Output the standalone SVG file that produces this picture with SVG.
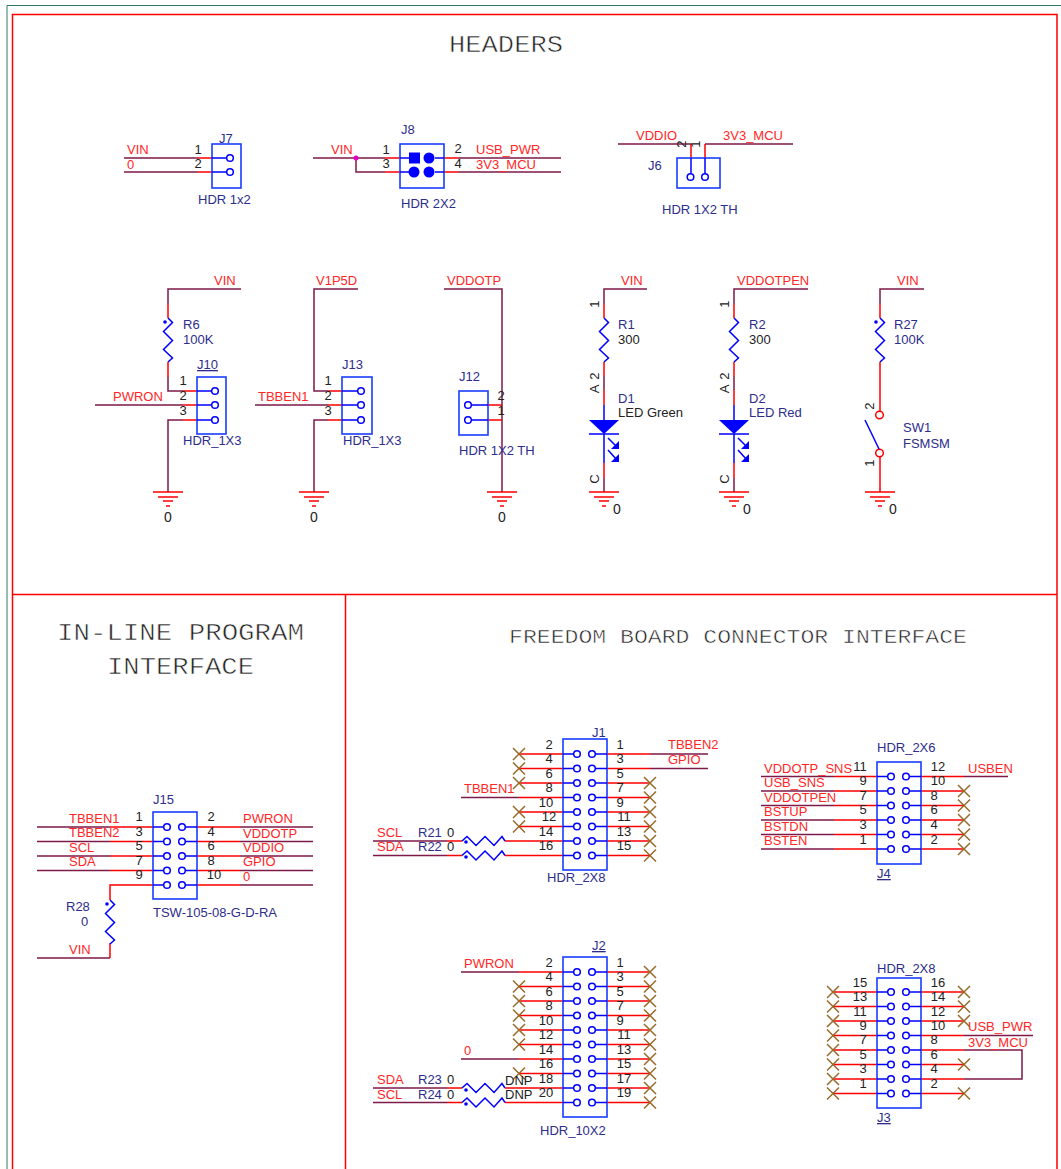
<svg xmlns="http://www.w3.org/2000/svg" width="1061" height="1169" viewBox="0 0 1061 1169">
<style>
text{font-family:"Liberation Sans",Arial,sans-serif;font-size:13px}
.n{fill:#ff2626}
.p{fill:#2d2d8c}
.k{fill:#222;text-anchor:middle}
.z{font-size:14px}
.d{fill:#222}
.u{text-decoration:underline}
.t{font-family:"Liberation Mono","Courier New",monospace;fill:#222;font-size:23px;stroke:#fff;stroke-width:.55px}
.w{fill:none;stroke:#7d1a48;stroke-width:1.5}
.r{fill:none;stroke:#ff0000;stroke-width:1.5}
.b{fill:none;stroke:#0000ff;stroke-width:1.5}
.box{fill:none;stroke:#1a3cff;stroke-width:1.6}
.pin{fill:#fff;stroke:#0000ff;stroke-width:1.5}
.dot{fill:#0000ff}
.x{fill:none;stroke:#9a6a2a;stroke-width:1.5}
.g{fill:none;stroke:#ff0000;stroke-width:1.5}
.fr{fill:none;stroke:#ff0000;stroke-width:1.5}
</style>
<defs>
<path id="nc" class="x" d="M-6-6L6 6M-6 6L6-6"/>
<path id="gnd" class="g" d="M-15 0H15M-10 5H10M-5 9H5M-2 14H2"/>
<path id="rv" class="b" d="M0 0L4.500 4.500L-4.500 13.500L4.500 22.500L-4.500 31.500L4.500 40L0 44"/>
<path id="rh" class="b" d="M0 0L5-4.500L14 4.500L23-4.500L32 4.500L40-4.500L43 0"/>
<g id="led">
<path class="b" d="M0 0V15M-15 29H15M0 29V58M4 33L13 42M4 45L13 55"/>
<polygon class="dot" points="-15,15 15,15 0,29"/>
<polygon class="dot" points="15,44 15,36 7,44"/>
<polygon class="dot" points="15,57 15,49 7,57"/>
</g>
</defs>

<g id="frame">
<path d="M7 1169V5.500H1061" fill="none" stroke="#2f7a6a" stroke-width="1"/>
<path class="fr" d="M1057 1169V14.500H12.500V1169M12.500 594.500H1057M345.500 594.500V1169"/>
<text class="t" x="449" y="52" textLength="114" lengthAdjust="spacingAndGlyphs">HEADERS</text>
<text class="t" x="57" y="640" textLength="247" lengthAdjust="spacingAndGlyphs">IN-LINE PROGRAM</text>
<text class="t" x="107" y="674" textLength="147" lengthAdjust="spacingAndGlyphs">INTERFACE</text>
<text class="t" x="509" y="643" style="font-size:20px" textLength="458" lengthAdjust="spacingAndGlyphs">FREEDOM BOARD CONNECTOR INTERFACE</text>
</g>

<g id="connectors">
<path class="w" d="M124 158H198M124 172H198M313 158H385M356 158V172H385M458 158H561M458 172H561M618 144H691M705 144H793"/>
<path class="r" d="M198 158H212M198 172H212M385 158H400M385 172H400M444 158H458M444 172H458M691 144V158M705 144V158"/>
<circle cx="356" cy="158" r="2.500" fill="#e000c0"/>
<path class="w" d="M241 289H168V304M168 377V391H183M95 405H183M183 420H168V492M358 289H314V391H328M255 405H328M328 420H314V492M444 289H502V492"/>
<path class="r" d="M168 304V318M168 362V377M183 391H197M183 405H197M183 420H197M328 391H342M328 405H342M328 420H342M488 405H502M488 420H502"/>
<path class="w" d="M647 289H604V304M604 376V390M604 478V492M808 289H734V304M734 376V390M734 478V492M924 289H880V304"/>
<path class="r" d="M604 304V318M604 362V376M604 390V405M604 463V478M734 304V318M734 362V376M734 390V405M734 463V478M880 304V318M880 362V411M880 457V492"/>
<path class="w" d="M37 827H110M37 841.500H110M37 856H110M37 870.500H110M110 958H37M240 827H313M240 841.500H313M240 856H313M240 870.500H313M240 885H313"/>
<path class="r" d="M110 827H153M110 841.500H153M110 856H153M110 870.500H153M153 885H110V900M110 943V958M197 827H240M197 841.500H240M197 856H240M197 870.500H240M197 885H240"/>
<path class="w" d="M461 797.500H519M373 841H447M373 855.500H447M650 754H708M650 768.500H708"/>
<path class="r" d="M519 754H563M519 768.500H563M519 783H563M519 797.500H563M519 812H563M519 826.500H563M447 841H462M505 841H563M447 855.500H462M505 855.500H563M607 754H650M607 768.500H650M607 783H650M607 797.500H650M607 812H650M607 826.500H650M607 841H650M607 855.500H650"/>
<path class="w" d="M461 972H519M461 1059H519M373 1088H447M373 1102.500H447"/>
<path class="r" d="M519 972H563M519 986.500H563M519 1001H563M519 1015.500H563M519 1030H563M519 1044.500H563M519 1059H563M519 1073.500H563M447 1088H462M505 1088H563M447 1102.500H462M505 1102.500H563M607 972H650M607 986.500H650M607 1001H650M607 1015.500H650M607 1030H650M607 1044.500H650M607 1059H650M607 1073.500H650M607 1088H650M607 1102.500H650"/>
<path class="w" d="M761 776.500H834M761 791H834M761 805.500H834M761 820H834M761 834.500H834M761 849H834M964 776.500H1008"/>
<path class="r" d="M834 776.500H877M834 791H877M834 805.500H877M834 820H877M834 834.500H877M834 849H877M921 776.500H964M921 791H964M921 805.500H964M921 820H964M921 834.500H964M921 849H964"/>
<path class="w" d="M964 1035.500H1033M964 1050H1022V1079H964"/>
<path class="r" d="M833 992H877M833 1006.500H877M833 1021H877M833 1035.500H877M833 1050H877M833 1064.500H877M833 1079H877M833 1093.500H877M921 992H964M921 1006.500H964M921 1021H964M921 1035.500H964M921 1050H964M921 1064.500H964M921 1079H964M921 1093.500H964"/>
</g>

<g id="J7">
<rect class="box" x="212" y="144" width="29" height="44"/>
<path class="b" d="M212 158H227M212 172H227"/>
<circle class="pin" cx="230" cy="158" r="3.300"/><circle class="pin" cx="230" cy="172" r="3.300"/>
<text class="p" x="219" y="143">J7</text><text class="p" x="198" y="204">HDR 1x2</text>
<text class="n" x="127" y="154">VIN</text><text class="n" x="127" y="169">0</text>
<text class="k" x="198" y="154">1</text><text class="k" x="198" y="168">2</text>
</g>

<g id="J8">
<rect class="box" x="400" y="144" width="44" height="44"/>
<path class="b" d="M400 158H409M400 172H409M435 158H444M435 172H444"/>
<rect class="dot" x="409" y="152.500" width="11" height="11"/>
<circle class="dot" cx="429" cy="158" r="5.500"/><circle class="dot" cx="414" cy="172" r="5.500"/><circle class="dot" cx="429" cy="172" r="5.500"/>
<text class="p" x="401" y="134">J8</text><text class="p" x="401" y="208">HDR 2X2</text>
<text class="n" x="331" y="154">VIN</text>
<text class="k" x="386" y="154">1</text><text class="k" x="386" y="168">3</text><text class="k" x="458" y="153">2</text><text class="k" x="458" y="168">4</text>
<text class="n" x="476" y="154">USB_PWR</text><text class="n" x="476" y="169">3V3_MCU</text>
</g>

<g id="J6">
<rect class="box" x="677" y="158" width="43" height="30"/>
<path class="b" d="M691 158V173.500M705 158V173.500"/>
<circle class="pin" cx="690.500" cy="177" r="3.300"/><circle class="pin" cx="705" cy="177" r="3.300"/>
<text class="n" x="636" y="140">VDDIO</text><text class="n" x="723" y="140">3V3_MCU</text>
<text class="p" x="648" y="170">J6</text><text class="p" x="662" y="214">HDR 1X2 TH</text>
<text class="k" transform="rotate(-90 686 144)" x="686" y="144">2</text><text class="k" transform="rotate(-90 700 144)" x="700" y="144">1</text>
</g>

<g id="R6">
<use href="#rv" x="168" y="318"/><circle class="dot" cx="165" cy="322" r="1.800"/>
<text class="n" x="214" y="285">VIN</text>
<text class="p" x="183" y="329">R6</text><text class="p" x="183" y="344">100K</text>
</g>
<g id="J10">
<rect class="box" x="197" y="377" width="29" height="57"/>
<path class="b" d="M197 391H212M197 405H212M197 420H212"/>
<circle class="pin" cx="215" cy="391" r="3.300"/><circle class="pin" cx="215" cy="405" r="3.300"/><circle class="pin" cx="215" cy="420" r="3.300"/>
<text class="p u" x="197" y="369">J10</text><text class="p" x="183" y="445">HDR_1X3</text>
<text class="k" x="183" y="385">1</text><text class="k" x="183" y="400">2</text><text class="k" x="183" y="415">3</text>
<text class="n" x="113" y="401">PWRON</text>
<use href="#gnd" x="168" y="492"/><text class="k z" x="168" y="522">0</text>
</g>
<g id="J13">
<rect class="box" x="342" y="377" width="30" height="57"/>
<path class="b" d="M342 391H358M342 405H358M342 420H358"/>
<circle class="pin" cx="361" cy="391" r="3.300"/><circle class="pin" cx="361" cy="405" r="3.300"/><circle class="pin" cx="361" cy="420" r="3.300"/>
<text class="p" x="342" y="369">J13</text><text class="p" x="343" y="445">HDR_1X3</text>
<text class="k" x="328" y="385">1</text><text class="k" x="328" y="400">2</text><text class="k" x="328" y="415">3</text>
<text class="n" x="316" y="285">V1P5D</text><text class="n" x="258" y="401">TBBEN1</text>
<use href="#gnd" x="314" y="492"/><text class="k z" x="314" y="522">0</text>
</g>
<g id="J12">
<rect class="box" x="459" y="391" width="29" height="44"/>
<path class="b" d="M471 405H488M471 420H488"/>
<circle class="pin" cx="468" cy="405" r="3.300"/><circle class="pin" cx="468" cy="420" r="3.300"/>
<text class="p" x="459" y="381">J12</text><text class="p" x="459" y="455">HDR 1X2 TH</text>
<text class="k" x="501" y="400">2</text><text class="k" x="501" y="415">1</text>
<text class="n" x="447" y="285">VDDOTP</text>
<use href="#gnd" x="502" y="492"/><text class="k z" x="502" y="522">0</text>
</g>
<g id="R1">
<use href="#rv" x="604" y="318"/>
<text class="n" x="621" y="285">VIN</text>
<text class="p" x="618" y="329">R1</text><text class="d" x="618" y="344">300</text>
<text class="k" transform="rotate(-90 599 304)" x="599" y="304">1</text>
<text class="k" transform="rotate(-90 599 376)" x="599" y="376">2</text>
</g>
<g id="D1">
<use href="#led" x="604" y="405"/>
<text class="k" transform="rotate(-90 599 389)" x="599" y="389">A</text>
<text class="k" transform="rotate(-90 599 479)" x="599" y="479">C</text>
<text class="p" x="618" y="403">D1</text><text class="d" x="618" y="417">LED Green</text>
<use href="#gnd" x="604" y="492"/><text class="k z" x="617" y="514">0</text>
</g>
<g id="R2">
<use href="#rv" x="734" y="318"/>
<text class="n" x="737" y="285">VDDOTPEN</text>
<text class="p" x="749" y="329">R2</text><text class="d" x="749" y="344">300</text>
<text class="k" transform="rotate(-90 729 304)" x="729" y="304">1</text>
<text class="k" transform="rotate(-90 729 376)" x="729" y="376">2</text>
</g>
<g id="D2">
<use href="#led" x="734" y="405"/>
<text class="k" transform="rotate(-90 729 389)" x="729" y="389">A</text>
<text class="k" transform="rotate(-90 729 479)" x="729" y="479">C</text>
<text class="p" x="749" y="403">D2</text><text class="p" x="749" y="417">LED Red</text>
<use href="#gnd" x="734" y="492"/><text class="k z" x="747" y="514">0</text>
</g>
<g id="R27">
<use href="#rv" x="880" y="318"/><circle class="dot" cx="876" cy="322" r="1.800"/>
<text class="n" x="897" y="285">VIN</text>
<text class="p" x="894" y="329">R27</text><text class="p" x="894" y="344">100K</text>
</g>
<g id="SW1">
<circle cx="879.500" cy="415" r="3.800" fill="#fff" stroke="#ff0000" stroke-width="1.500"/>
<circle cx="879.500" cy="453" r="3.800" fill="#fff" stroke="#ff0000" stroke-width="1.500"/>
<path class="b" d="M865 420L879 449"/>
<text class="k" transform="rotate(-90 874 406)" x="874" y="406">2</text>
<text class="k" transform="rotate(-90 874 463)" x="874" y="463">1</text>
<text class="p" x="903" y="432">SW1</text><text class="p" x="903" y="448">FSMSM</text>
<use href="#gnd" x="880" y="492"/><text class="k z" x="893" y="514">0</text>
</g>

<g id="J15">
<rect class="box" x="153" y="812" width="44" height="87"/>
<path class="b" d="M153 827H164M153 841.500H164M153 856H164M153 870.500H164M153 885H164M185 827H197M185 841.500H197M185 856H197M185 870.500H197M185 885H197"/>
<circle class="pin" cx="167" cy="827" r="3.300"/><circle class="pin" cx="182" cy="827" r="3.300"/>
<circle class="pin" cx="167" cy="841.500" r="3.300"/><circle class="pin" cx="182" cy="841.500" r="3.300"/>
<circle class="pin" cx="167" cy="856" r="3.300"/><circle class="pin" cx="182" cy="856" r="3.300"/>
<circle class="pin" cx="167" cy="870.500" r="3.300"/><circle class="pin" cx="182" cy="870.500" r="3.300"/>
<circle class="pin" cx="167" cy="885" r="3.300"/><circle class="pin" cx="182" cy="885" r="3.300"/>
<text class="p" x="153" y="804">J15</text><text class="p" x="153" y="917">TSW-105-08-G-D-RA</text>
<text class="k" x="139" y="821">1</text><text class="k" x="139" y="836">3</text><text class="k" x="139" y="850">5</text><text class="k" x="139" y="865">7</text><text class="k" x="139" y="879">9</text>
<text class="k" x="211" y="821">2</text><text class="k" x="211" y="836">4</text><text class="k" x="211" y="850">6</text><text class="k" x="211" y="865">8</text><text class="k" x="214" y="879">10</text>
<text class="n" x="69" y="823">TBBEN1</text><text class="n" x="69" y="837">TBBEN2</text><text class="n" x="69" y="852">SCL</text><text class="n" x="69" y="866">SDA</text>
<text class="n" x="243" y="823">PWRON</text><text class="n" x="243" y="838">VDDOTP</text><text class="n" x="243" y="852">VDDIO</text><text class="n" x="243" y="866">GPIO</text><text class="n" x="243" y="881">0</text>
</g>
<g id="R28">
<use href="#rv" x="110" y="900"/><circle class="dot" cx="107" cy="904" r="1.800"/>
<text class="p" x="66" y="911">R28</text><text class="p" x="81" y="926">0</text>
<text class="n" x="69" y="954">VIN</text>
</g>

<g id="J1">
<rect class="box" x="563" y="739" width="44" height="131"/>
<path class="b" d="M563 754H574M563 768.500H574M563 783H574M563 797.500H574M563 812H574M563 826.500H574M563 841H574M563 855.500H574M595 754H607M595 768.500H607M595 783H607M595 797.500H607M595 812H607M595 826.500H607M595 841H607M595 855.500H607"/>
<circle class="pin" cx="577" cy="754" r="3.300"/><circle class="pin" cx="592" cy="754" r="3.300"/>
<circle class="pin" cx="577" cy="768.500" r="3.300"/><circle class="pin" cx="592" cy="768.500" r="3.300"/>
<circle class="pin" cx="577" cy="783" r="3.300"/><circle class="pin" cx="592" cy="783" r="3.300"/>
<circle class="pin" cx="577" cy="797.500" r="3.300"/><circle class="pin" cx="592" cy="797.500" r="3.300"/>
<circle class="pin" cx="577" cy="812" r="3.300"/><circle class="pin" cx="592" cy="812" r="3.300"/>
<circle class="pin" cx="577" cy="826.500" r="3.300"/><circle class="pin" cx="592" cy="826.500" r="3.300"/>
<circle class="pin" cx="577" cy="841" r="3.300"/><circle class="pin" cx="592" cy="841" r="3.300"/>
<circle class="pin" cx="577" cy="855.500" r="3.300"/><circle class="pin" cx="592" cy="855.500" r="3.300"/>
<text class="p" x="592" y="737">J1</text><text class="p" x="547" y="882">HDR_2X8</text>
<text class="k" x="549" y="749">2</text><text class="k" x="549" y="763">4</text><text class="k" x="549" y="778">6</text><text class="k" x="549" y="792">8</text><text class="k" x="546" y="807">10</text><text class="k" x="549" y="821">12</text><text class="k" x="546" y="836">14</text><text class="k" x="546" y="850">16</text>
<text class="k" x="620" y="749">1</text><text class="k" x="620" y="763">3</text><text class="k" x="620" y="778">5</text><text class="k" x="620" y="792">7</text><text class="k" x="620" y="807">9</text><text class="k" x="624" y="821">11</text><text class="k" x="624" y="836">13</text><text class="k" x="624" y="850">15</text>
<text class="n" x="668" y="749">TBBEN2</text><text class="n" x="668" y="764">GPIO</text><text class="n" x="464" y="793">TBBEN1</text>
<use href="#nc" x="519" y="754"/><use href="#nc" x="519" y="768.500"/><use href="#nc" x="519" y="783"/><use href="#nc" x="519" y="812"/><use href="#nc" x="519" y="826.500"/>
<use href="#nc" x="650" y="783"/><use href="#nc" x="650" y="797.500"/><use href="#nc" x="650" y="812"/><use href="#nc" x="650" y="826.500"/><use href="#nc" x="650" y="841"/><use href="#nc" x="650" y="855.500"/>
</g>
<g id="R21">
<use href="#rh" x="462" y="841"/><circle class="dot" cx="466" cy="842" r="1.800"/>
<text class="n" x="377" y="837">SCL</text><text class="p" x="418" y="837">R21</text><text class="d" x="447" y="837">0</text>
</g>
<g id="R22">
<use href="#rh" x="462" y="855.500"/><circle class="dot" cx="466" cy="857" r="1.800"/>
<text class="n" x="377" y="851">SDA</text><text class="p" x="418" y="851">R22</text><text class="d" x="447" y="851">0</text>
</g>

<g id="J2">
<rect class="box" x="563" y="957" width="44" height="160"/>
<path class="b" d="M563 972H574M563 986.500H574M563 1001H574M563 1015.500H574M563 1030H574M563 1044.500H574M563 1059H574M563 1073.500H574M563 1088H574M563 1102.500H574M595 972H607M595 986.500H607M595 1001H607M595 1015.500H607M595 1030H607M595 1044.500H607M595 1059H607M595 1073.500H607M595 1088H607M595 1102.500H607"/>
<circle class="pin" cx="577" cy="972" r="3.300"/><circle class="pin" cx="592" cy="972" r="3.300"/>
<circle class="pin" cx="577" cy="986.500" r="3.300"/><circle class="pin" cx="592" cy="986.500" r="3.300"/>
<circle class="pin" cx="577" cy="1001" r="3.300"/><circle class="pin" cx="592" cy="1001" r="3.300"/>
<circle class="pin" cx="577" cy="1015.500" r="3.300"/><circle class="pin" cx="592" cy="1015.500" r="3.300"/>
<circle class="pin" cx="577" cy="1030" r="3.300"/><circle class="pin" cx="592" cy="1030" r="3.300"/>
<circle class="pin" cx="577" cy="1044.500" r="3.300"/><circle class="pin" cx="592" cy="1044.500" r="3.300"/>
<circle class="pin" cx="577" cy="1059" r="3.300"/><circle class="pin" cx="592" cy="1059" r="3.300"/>
<circle class="pin" cx="577" cy="1073.500" r="3.300"/><circle class="pin" cx="592" cy="1073.500" r="3.300"/>
<circle class="pin" cx="577" cy="1088" r="3.300"/><circle class="pin" cx="592" cy="1088" r="3.300"/>
<circle class="pin" cx="577" cy="1102.500" r="3.300"/><circle class="pin" cx="592" cy="1102.500" r="3.300"/>
<text class="p u" x="592" y="950">J2</text><text class="p" x="540" y="1135">HDR_10X2</text>
<text class="k" x="549" y="967">2</text><text class="k" x="549" y="981">4</text><text class="k" x="549" y="996">6</text><text class="k" x="549" y="1010">8</text><text class="k" x="546" y="1025">10</text><text class="k" x="546" y="1039">12</text><text class="k" x="546" y="1054">14</text><text class="k" x="546" y="1068">16</text><text class="k" x="546" y="1083">18</text><text class="k" x="546" y="1097">20</text>
<text class="k" x="620" y="967">1</text><text class="k" x="620" y="981">3</text><text class="k" x="620" y="996">5</text><text class="k" x="620" y="1010">7</text><text class="k" x="620" y="1025">9</text><text class="k" x="624" y="1039">11</text><text class="k" x="624" y="1054">13</text><text class="k" x="624" y="1068">15</text><text class="k" x="624" y="1083">17</text><text class="k" x="624" y="1097">19</text>
<text class="n" x="464" y="968">PWRON</text><text class="n" x="464" y="1055">0</text>
<use href="#nc" x="519" y="986.500"/><use href="#nc" x="519" y="1001"/><use href="#nc" x="519" y="1015.500"/><use href="#nc" x="519" y="1030"/><use href="#nc" x="519" y="1044.500"/><use href="#nc" x="519" y="1073.500"/>
<use href="#nc" x="650" y="972"/><use href="#nc" x="650" y="986.500"/><use href="#nc" x="650" y="1001"/><use href="#nc" x="650" y="1015.500"/><use href="#nc" x="650" y="1030"/><use href="#nc" x="650" y="1044.500"/><use href="#nc" x="650" y="1059"/><use href="#nc" x="650" y="1073.500"/><use href="#nc" x="650" y="1088"/><use href="#nc" x="650" y="1102.500"/>
</g>
<g id="R23">
<use href="#rh" x="462" y="1088"/><circle class="dot" cx="466" cy="1090" r="1.800"/>
<text class="n" x="377" y="1084">SDA</text><text class="p" x="418" y="1084">R23</text><text class="d" x="447" y="1084">0</text><text class="d" x="505" y="1085">DNP</text>
</g>
<g id="R24">
<use href="#rh" x="462" y="1102.500"/><circle class="dot" cx="466" cy="1104" r="1.800"/>
<text class="n" x="377" y="1099">SCL</text><text class="p" x="418" y="1099">R24</text><text class="d" x="447" y="1099">0</text><text class="d" x="505" y="1099">DNP</text>
</g>

<g id="J4">
<rect class="box" x="877" y="762" width="44" height="102"/>
<path class="b" d="M877 776.500H888M877 791H888M877 805.500H888M877 820H888M877 834.500H888M877 849H888M909 776.500H921M909 791H921M909 805.500H921M909 820H921M909 834.500H921M909 849H921"/>
<circle class="pin" cx="891" cy="776.500" r="3.300"/><circle class="pin" cx="906" cy="776.500" r="3.300"/>
<circle class="pin" cx="891" cy="791" r="3.300"/><circle class="pin" cx="906" cy="791" r="3.300"/>
<circle class="pin" cx="891" cy="805.500" r="3.300"/><circle class="pin" cx="906" cy="805.500" r="3.300"/>
<circle class="pin" cx="891" cy="820" r="3.300"/><circle class="pin" cx="906" cy="820" r="3.300"/>
<circle class="pin" cx="891" cy="834.500" r="3.300"/><circle class="pin" cx="906" cy="834.500" r="3.300"/>
<circle class="pin" cx="891" cy="849" r="3.300"/><circle class="pin" cx="906" cy="849" r="3.300"/>
<text class="p" x="877" y="752">HDR_2X6</text><text class="p u" x="877" y="878">J4</text>
<text class="n" x="764" y="773">VDDOTP_SNS</text><text class="n" x="764" y="787">USB_SNS</text><text class="n" x="764" y="802">VDDOTPEN</text><text class="n" x="764" y="816">BSTUP</text><text class="n" x="764" y="831">BSTDN</text><text class="n" x="764" y="845">BSTEN</text>
<text class="k" x="860" y="771">11</text><text class="k" x="863" y="785">9</text><text class="k" x="863" y="800">7</text><text class="k" x="863" y="814">5</text><text class="k" x="863" y="829">3</text><text class="k" x="863" y="844">1</text>
<text class="k" x="938" y="771">12</text><text class="k" x="938" y="785">10</text><text class="k" x="934" y="800">8</text><text class="k" x="934" y="814">6</text><text class="k" x="934" y="829">4</text><text class="k" x="934" y="844">2</text>
<text class="n" x="968" y="773">USBEN</text>
<use href="#nc" x="964" y="791"/><use href="#nc" x="964" y="805.500"/><use href="#nc" x="964" y="820"/><use href="#nc" x="964" y="834.500"/><use href="#nc" x="964" y="849"/>
</g>

<g id="J3">
<rect class="box" x="877" y="978" width="44" height="130"/>
<path class="b" d="M877 992H888M877 1006.500H888M877 1021H888M877 1035.500H888M877 1050H888M877 1064.500H888M877 1079H888M877 1093.500H888M909 992H921M909 1006.500H921M909 1021H921M909 1035.500H921M909 1050H921M909 1064.500H921M909 1079H921M909 1093.500H921"/>
<circle class="pin" cx="891" cy="992" r="3.300"/><circle class="pin" cx="906" cy="992" r="3.300"/>
<circle class="pin" cx="891" cy="1006.500" r="3.300"/><circle class="pin" cx="906" cy="1006.500" r="3.300"/>
<circle class="pin" cx="891" cy="1021" r="3.300"/><circle class="pin" cx="906" cy="1021" r="3.300"/>
<circle class="pin" cx="891" cy="1035.500" r="3.300"/><circle class="pin" cx="906" cy="1035.500" r="3.300"/>
<circle class="pin" cx="891" cy="1050" r="3.300"/><circle class="pin" cx="906" cy="1050" r="3.300"/>
<circle class="pin" cx="891" cy="1064.500" r="3.300"/><circle class="pin" cx="906" cy="1064.500" r="3.300"/>
<circle class="pin" cx="891" cy="1079" r="3.300"/><circle class="pin" cx="906" cy="1079" r="3.300"/>
<circle class="pin" cx="891" cy="1093.500" r="3.300"/><circle class="pin" cx="906" cy="1093.500" r="3.300"/>
<text class="p" x="877" y="973">HDR_2X8</text><text class="p u" x="877" y="1122">J3</text>
<text class="k" x="860" y="987">15</text><text class="k" x="860" y="1001">13</text><text class="k" x="860" y="1016">11</text><text class="k" x="863" y="1030">9</text><text class="k" x="863" y="1044">7</text><text class="k" x="863" y="1059">5</text><text class="k" x="863" y="1073">3</text><text class="k" x="863" y="1088">1</text>
<text class="k" x="938" y="987">16</text><text class="k" x="938" y="1001">14</text><text class="k" x="938" y="1016">12</text><text class="k" x="938" y="1030">10</text><text class="k" x="934" y="1044">8</text><text class="k" x="934" y="1059">6</text><text class="k" x="934" y="1073">4</text><text class="k" x="934" y="1088">2</text>
<text class="n" x="968" y="1031">USB_PWR</text><text class="n" x="968" y="1047">3V3_MCU</text>
<use href="#nc" x="833" y="992"/><use href="#nc" x="833" y="1006.500"/><use href="#nc" x="833" y="1021"/><use href="#nc" x="833" y="1035.500"/><use href="#nc" x="833" y="1050"/><use href="#nc" x="833" y="1064.500"/><use href="#nc" x="833" y="1079"/><use href="#nc" x="833" y="1093.500"/>
<use href="#nc" x="964" y="992"/><use href="#nc" x="964" y="1006.500"/><use href="#nc" x="964" y="1021"/><use href="#nc" x="964" y="1064.500"/><use href="#nc" x="964" y="1093.500"/>
</g>
</svg>
